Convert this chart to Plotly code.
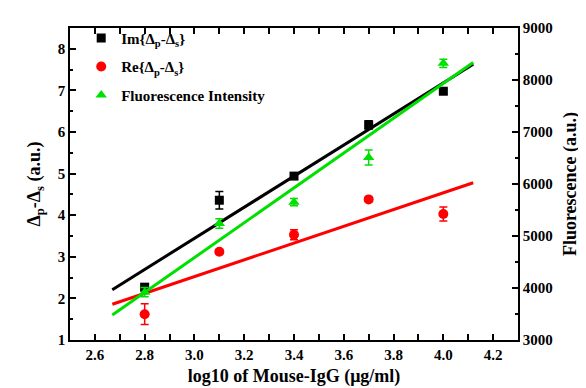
import plotly.graph_objects as go

# ---- data ----
conc = [2.8, 3.1, 3.4, 3.7, 4.0]
im_vals = [2.27, 4.36, 4.94, 6.17, 6.98]
im_err = [0.08, 0.21, 0.05, 0.10, 0.06]
re_vals = [1.62, 3.12, 3.53, 4.38, 4.03]
re_err = [0.25, 0.05, 0.12, 0.05, 0.17]
fl_vals = [3920, 5240, 5650, 6510, 8320]
fl_err = [90, 90, 70, 145, 80]

fit_x = [2.67, 4.12]
im_fit = [2.21, 7.63]
re_fit = [1.86, 4.78]
fl_fit = [3480, 8335]

x_ticks = [2.6, 2.8, 3.0, 3.2, 3.4, 3.6, 3.8, 4.0, 4.2]
y_ticks = [1, 2, 3, 4, 5, 6, 7, 8]
y2_ticks = [3000, 4000, 5000, 6000, 7000, 8000, 9000]

FONT = "Liberation Serif"
BLACK = "#000000"
RED = "#ff0000"
GREEN = "#00e000"

fig = go.Figure()

# fit lines
fig.add_trace(go.Scatter(x=fit_x, y=im_fit, mode="lines", line=dict(color=BLACK, width=3),
                         showlegend=False, hoverinfo="skip"))
fig.add_trace(go.Scatter(x=fit_x, y=re_fit, mode="lines", line=dict(color=RED, width=3),
                         showlegend=False, hoverinfo="skip"))
fig.add_trace(go.Scatter(x=fit_x, y=fl_fit, mode="lines", line=dict(color=GREEN, width=3),
                         showlegend=False, hoverinfo="skip", yaxis="y2"))

# data points
fig.add_trace(go.Scatter(
    x=conc, y=im_vals, mode="markers", name="<b>Im{Δ<sub>p</sub>-Δ<sub>s</sub>}</b>",
    legendgroup="im",
    marker=dict(symbol="square", size=9, color=BLACK),
    error_y=dict(type="data", array=im_err, color=BLACK, thickness=1.5, width=4)))
fig.add_trace(go.Scatter(
    x=conc, y=re_vals, mode="markers", name="<b>Re{Δ<sub>p</sub>-Δ<sub>s</sub>}</b>",
    legendgroup="re",
    marker=dict(symbol="circle", size=10, color=RED),
    error_y=dict(type="data", array=re_err, color=RED, thickness=1.5, width=4)))
fig.add_trace(go.Scatter(
    x=conc, y=fl_vals, mode="markers", name="<b>Fluorescence Intensity</b>", yaxis="y2",
    legendgroup="fl",
    marker=dict(symbol="triangle-up", size=10, color=GREEN),
    error_y=dict(type="data", array=fl_err, color=GREEN, thickness=1.5, width=4)))

tickfont = dict(family=FONT, size=15, color=BLACK)
titlefont = dict(family=FONT, size=18, color=BLACK)

fig.update_layout(
    width=586, height=388,
    margin=dict(l=62, r=76, t=18, b=56),
    paper_bgcolor="white", plot_bgcolor="white",
    font=dict(family=FONT, color=BLACK),
    showlegend=True,
    legend=dict(x=0.025, y=1.02, xanchor="left", yanchor="top",
                bgcolor="rgba(0,0,0,0)", font=dict(family=FONT, size=15, color=BLACK),
                itemwidth=30, tracegroupgap=6),
    xaxis=dict(range=[2.5, 4.3], tickvals=x_ticks,
               ticktext=[f"<b>{v:.1f}</b>" for v in x_ticks],
               ticks="inside", ticklen=6, tickwidth=1.5, tickcolor=BLACK,
               minor=dict(dtick=0.1, ticks="inside", ticklen=3, tickcolor=BLACK, tickwidth=1.5),
               showline=True, linecolor=BLACK, linewidth=1.5, mirror="allticks",
               showgrid=False, zeroline=False, tickfont=tickfont,
               title=dict(text="<b>log10 of Mouse-IgG (μg/ml)</b>", font=titlefont, standoff=8)),
    yaxis=dict(range=[1, 8.5], tickvals=y_ticks,
               ticktext=[f"<b>{v}</b>" for v in y_ticks],
               ticks="inside", ticklen=6, tickwidth=1.5, tickcolor=BLACK,
               minor=dict(dtick=0.5, ticks="inside", ticklen=3, tickcolor=BLACK, tickwidth=1.5),
               showline=True, linecolor=BLACK, linewidth=1.5,
               showgrid=False, zeroline=False, tickfont=tickfont,
               title=dict(text="<b>Δ<sub>p</sub>-Δ<sub>s</sub> (a.u.)</b>", font=titlefont, standoff=12)),
    yaxis2=dict(range=[3000, 9000], tickvals=y2_ticks,
                ticktext=[f"<b>{v}</b>" for v in y2_ticks],
                overlaying="y", side="right",
                ticks="inside", ticklen=6, tickwidth=1.5, tickcolor=BLACK,
                minor=dict(dtick=500, ticks="inside", ticklen=3, tickcolor=BLACK, tickwidth=1.5),
                showline=True, linecolor=BLACK, linewidth=1.5,
                showgrid=False, zeroline=False, tickfont=tickfont,
                title=dict(text="<b>Fluorescence (a.u.)</b>", font=titlefont, standoff=12)),
)

fig.write_html("out.html")
